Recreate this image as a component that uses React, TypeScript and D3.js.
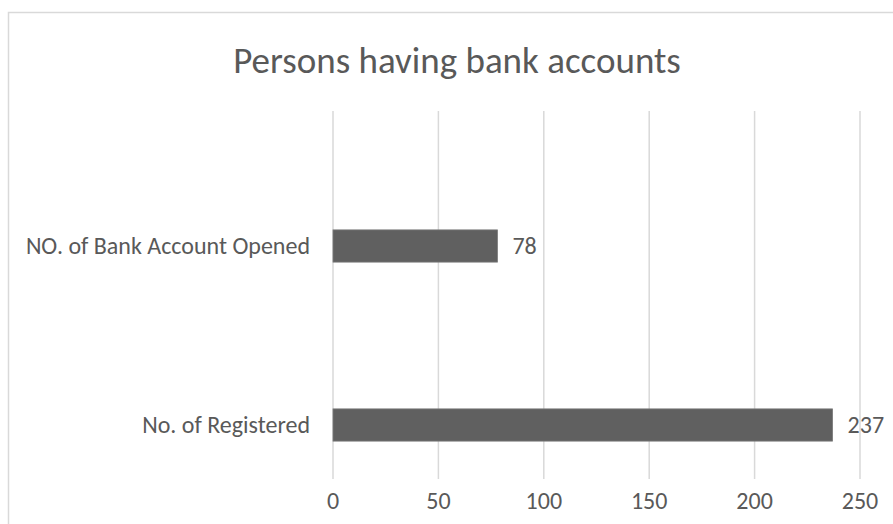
import * as d3 from 'd3';
import { useEffect, useRef } from 'react';

const categories = ['No. of Registered', 'NO. of Bank Account Opened'];
const values = [237, 78];
const xTicks = [0, 50, 100, 150, 200, 250];
const title = 'Persons having bank accounts';

const W = 893;
const H = 524;
const FONT = "Carlito, Calibri, 'Open Sans', sans-serif";
const TEXT = '#595959';
const GRID = '#d9d9d9';

export default function App() {
  const ref = useRef<SVGSVGElement>(null);

  useEffect(() => {
    if (!ref.current) return;
    const svg = d3.select(ref.current);
    svg.selectAll('*').remove();

    svg.append('rect').attr('width', W).attr('height', H).attr('fill', '#fff');

    // chart frame (right and bottom edges run past the picture)
    svg.append('rect')
      .attr('x', 8.5).attr('y', 12.5)
      .attr('width', W + 20).attr('height', H + 20)
      .attr('fill', 'none').attr('stroke', GRID).attr('stroke-width', 1.5);

    const x = d3.scaleLinear().domain([0, 250]).range([333, 860]);
    const y = d3.scaleBand<string>()
      .domain(categories)
      .range([514.5, 156.5])
      .paddingInner(0.82)
      .paddingOuter(0.41);

    // gridlines
    svg.append('g').selectAll('line').data(xTicks).join('line')
      .attr('x1', d => x(d)).attr('x2', d => x(d))
      .attr('y1', 111).attr('y2', 479)
      .attr('stroke', GRID).attr('stroke-width', 1.5);

    // bars
    svg.append('g').selectAll('rect').data(categories).join('rect')
      .attr('x', x(0))
      .attr('y', d => y(d)!)
      .attr('width', (d, i) => x(values[i]) - x(0))
      .attr('height', y.bandwidth())
      .attr('fill', '#606060')
      .attr('stroke', '#7a7a7a').attr('stroke-width', 0.8);

    // data labels
    svg.append('g').selectAll('text').data(categories).join('text')
      .text((d, i) => values[i])
      .attr('x', (d, i) => x(values[i]) + 15)
      .attr('y', d => y(d)! + y.bandwidth() / 2)
      .attr('dy', '0.35em')
      .attr('font-family', FONT).attr('font-size', 24)
      .attr('fill', TEXT);

    // category labels
    svg.append('g').selectAll('text').data(categories).join('text')
      .text(d => d)
      .attr('x', 310)
      .attr('y', d => y(d)! + y.bandwidth() / 2)
      .attr('dy', '0.35em')
      .attr('text-anchor', 'end')
      .attr('font-family', FONT).attr('font-size', 24)
      .attr('fill', TEXT);

    // x tick labels
    svg.append('g').selectAll('text').data(xTicks).join('text')
      .text(d => d)
      .attr('x', d => x(d))
      .attr('y', 501)
      .attr('dy', '0.35em')
      .attr('text-anchor', 'middle')
      .attr('font-family', FONT).attr('font-size', 24)
      .attr('fill', TEXT);

    // title
    svg.append('text')
      .text(title)
      .attr('x', 457).attr('y', 60)
      .attr('dy', '0.35em')
      .attr('text-anchor', 'middle')
      .attr('font-family', FONT).attr('font-size', 37)
      .attr('fill', TEXT);
  }, []);

  return (
    <svg
      ref={ref}
      width={W}
      height={H}
      style={{ position: 'absolute', left: 0, top: 0, display: 'block' }}
    />
  );
}
